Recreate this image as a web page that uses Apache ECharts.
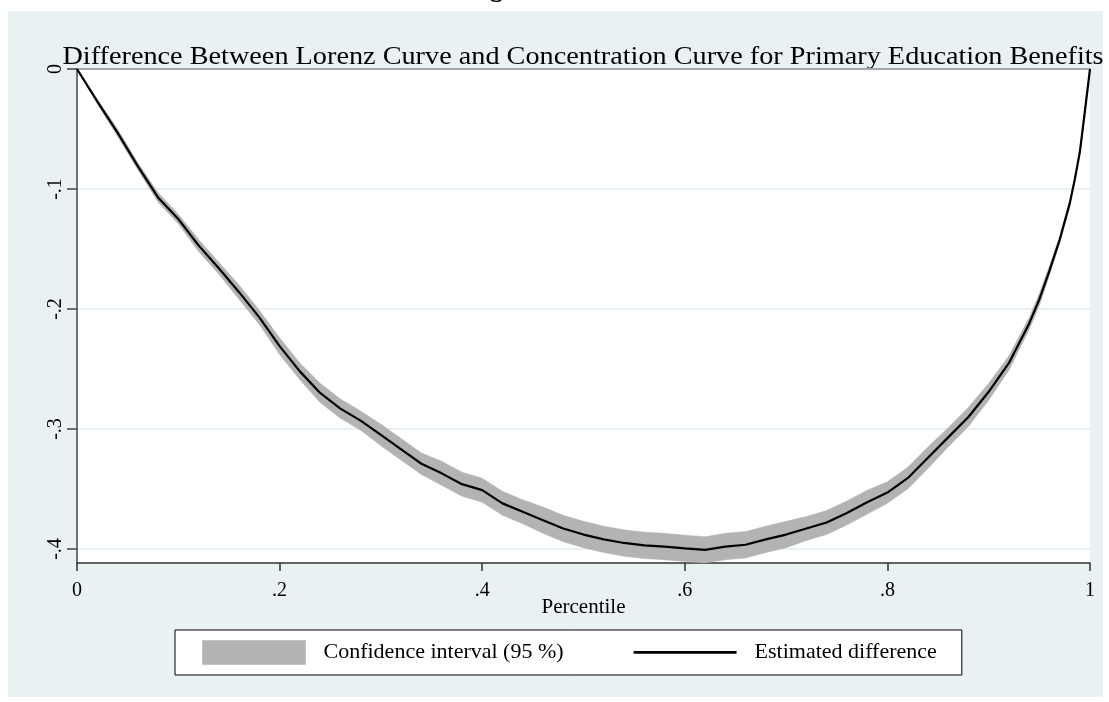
<!DOCTYPE html>
<html>
<head>
<meta charset="utf-8">
<title>Difference Between Lorenz Curve and Concentration Curve</title>
<script src="https://cdn.jsdelivr.net/npm/echarts@6/dist/echarts.min.js"></script>
<style>
  html, body { margin: 0; padding: 0; background: #ffffff; }
  #chart { width: 1109px; height: 702px; }
</style>
</head>
<body>
<div id="chart"></div>
<script>
// Percentile grid (population share, poorest first)
const percentile = [
  0, 0.02, 0.04, 0.06, 0.08, 0.10, 0.12, 0.14, 0.16, 0.18,
  0.20, 0.22, 0.24, 0.26, 0.28, 0.30, 0.32, 0.34, 0.36, 0.38,
  0.40, 0.42, 0.44, 0.46, 0.48, 0.50, 0.52, 0.54, 0.56, 0.58,
  0.60, 0.62, 0.64, 0.66, 0.68, 0.70, 0.72, 0.74, 0.76, 0.78,
  0.80, 0.82, 0.84, 0.86, 0.88, 0.90, 0.92, 0.94, 0.95, 0.96,
  0.97, 0.98, 0.985, 0.99, 0.995, 1
];

// Estimated difference: Lorenz curve minus concentration curve
const estDiff = [
  0, -0.027, -0.053, -0.081, -0.107, -0.125, -0.147, -0.166, -0.186, -0.207,
  -0.231, -0.252, -0.270, -0.283, -0.293, -0.305, -0.317, -0.329, -0.337, -0.346,
  -0.351, -0.362, -0.369, -0.376, -0.383, -0.388, -0.392, -0.395, -0.397, -0.398,
  -0.3995, -0.4008, -0.398, -0.3965, -0.392, -0.388, -0.383, -0.378, -0.370, -0.361,
  -0.353, -0.341, -0.324, -0.307, -0.290, -0.269, -0.245, -0.212, -0.192, -0.168,
  -0.1425, -0.112, -0.092, -0.069, -0.035, 0
];

// 95 % confidence bounds
const ciLow = [
  0, -0.029, -0.056, -0.084, -0.111, -0.129, -0.152, -0.171, -0.192, -0.213,
  -0.238, -0.259, -0.278, -0.291, -0.301, -0.314, -0.326, -0.338, -0.347, -0.356,
  -0.361, -0.372, -0.379, -0.387, -0.394, -0.399, -0.403, -0.406, -0.408, -0.409,
  -0.4105, -0.4116, -0.409, -0.4075, -0.403, -0.399, -0.393, -0.388, -0.380, -0.371,
  -0.362, -0.350, -0.333, -0.315, -0.298, -0.276, -0.251, -0.217, -0.197, -0.172,
  -0.1455, -0.115, -0.094, -0.071, -0.036, 0
];
const ciHigh = [
  0, -0.025, -0.050, -0.078, -0.103, -0.121, -0.142, -0.161, -0.180, -0.201,
  -0.224, -0.245, -0.262, -0.275, -0.285, -0.296, -0.308, -0.320, -0.327, -0.336,
  -0.341, -0.352, -0.359, -0.365, -0.372, -0.377, -0.381, -0.384, -0.386, -0.387,
  -0.3885, -0.3898, -0.387, -0.3855, -0.381, -0.377, -0.373, -0.368, -0.360, -0.351,
  -0.344, -0.332, -0.315, -0.299, -0.282, -0.262, -0.239, -0.207, -0.187, -0.164,
  -0.1395, -0.109, -0.090, -0.067, -0.034, 0
];

// Axis ticks and their printed labels
const xTicks = [0, 0.2, 0.4, 0.6, 0.8, 1];
const xTickLabels = ['0', '.2', '.4', '.6', '.8', '1'];
const yTicks = [-0.4, -0.3, -0.2, -0.1, 0];
const yTickLabels = ['-.4', '-.3', '-.2', '-.1', '0'];
const yFloor = -0.4117;

const titleText = 'Difference Between Lorenz Curve and Concentration Curve for Primary Education Benefits';
const ciName = 'Confidence interval (95 %)';
const lineName = 'Estimated difference';

const SERIF = '"Liberation Serif", "Times New Roman", serif';
const BAND = '#b3b3b3';

// Legend key for the estimate: a rule centred in a 103x24 box
// (the two hair-thin corner specks only fix the box size so the rule is not stretched)
const LINE_KEY = 'path://M0,0L0.01,0L0,0.01Z M0,10.6L103,10.6L103,13.2L0,13.2Z M103,24L102.99,24L103,23.99Z';

function labelFor(ticks, labels) {
  return function (v) {
    for (let i = 0; i < ticks.length; i++) {
      if (Math.abs(ticks[i] - v) < 1e-9) return labels[i];
    }
    return '';
  };
}

const linePairs = percentile.map((p, i) => [p, estDiff[i]]);

// The confidence band is one polygon: upper bound left to right, lower bound back.
function renderBand(params, api) {
  const pts = [];
  for (let i = 0; i < percentile.length; i++) pts.push(api.coord([percentile[i], ciHigh[i]]));
  for (let i = percentile.length - 1; i >= 0; i--) pts.push(api.coord([percentile[i], ciLow[i]]));
  return {
    type: 'polygon',
    shape: { points: pts },
    style: { fill: BAND, stroke: BAND, lineWidth: 0.5 }
  };
}

const chart = echarts.init(document.getElementById('chart'), null, { renderer: 'canvas' });

chart.setOption({
  backgroundColor: '#ffffff',
  animation: false,
  graphic: [
    {
      type: 'rect', z: -10, silent: true,
      shape: { x: 8, y: 11, width: 1095, height: 686 },
      style: { fill: '#eaf1f3' }
    },
    {
      type: 'text', z: -5, silent: true,
      x: 467, y: 3,
      style: {
        text: 'Figure', fill: '#000', font: 'bold 26px ' + SERIF,
        align: 'left', verticalAlign: 'bottom'
      }
    },
    {
      type: 'text', silent: true,
      x: 583, y: 70, scaleX: 1.13,
      style: {
        text: titleText, fill: '#000', font: '25px ' + SERIF,
        align: 'center', verticalAlign: 'bottom'
      }
    }
  ],
  grid: {
    left: 77, right: 19, top: 69, bottom: 139,
    show: true, backgroundColor: '#ffffff', borderWidth: 0
  },
  legend: {
    left: 175, top: 630,
    orient: 'horizontal',
    padding: [10, 25, 10, 27],
    itemWidth: 103, itemHeight: 24, itemGap: 70,
    backgroundColor: '#ffffff',
    borderColor: '#000000', borderWidth: 1,
    selectedMode: false,
    textStyle: { fontFamily: SERIF, fontSize: 22, color: '#000', padding: [0, 0, 0, 13] },
    data: [
      { name: ciName, icon: 'rect', itemStyle: { color: BAND, borderColor: '#c4c4c4', borderWidth: 1 } },
      { name: lineName, icon: LINE_KEY, itemStyle: { color: '#000000', borderWidth: 0 } }
    ]
  },
  xAxis: [
    {
      type: 'value', min: 0, max: 1, interval: 0.2,
      position: 'bottom',
      name: 'Percentile', nameLocation: 'middle', nameGap: 34, nameMoveOverlap: false,
      nameTextStyle: { fontFamily: SERIF, fontSize: 21, color: '#000' },
      axisLine: { show: true, onZero: false, lineStyle: { color: '#333333', width: 1.5 } },
      axisTick: { show: true, length: 8, lineStyle: { color: '#333333', width: 1.5 } },
      axisLabel: {
        margin: 18, fontFamily: SERIF, fontSize: 20, color: '#000',
        formatter: labelFor(xTicks, xTickLabels)
      },
      splitLine: { show: false }
    },
    {
      type: 'value', min: 0, max: 1, position: 'top',
      axisLine: { show: true, onZero: false, lineStyle: { color: '#8f8f8f', width: 1.5 } },
      axisTick: { show: false }, axisLabel: { show: false }, splitLine: { show: false }
    }
  ],
  yAxis: {
    type: 'value', min: yFloor, max: 0,
    axisLine: { show: true, onZero: false, lineStyle: { color: '#444444', width: 1.5 } },
    axisTick: { show: true, length: 10, customValues: yTicks, lineStyle: { color: '#444444', width: 1.5 } },
    axisLabel: {
      customValues: yTicks, rotate: 90, margin: 11,
      fontFamily: SERIF, fontSize: 20, color: '#000',
      formatter: labelFor(yTicks, yTickLabels)
    },
    splitLine: { show: true, lineStyle: { color: '#e7f0f2', width: 2 } }
  },
  series: [
    {
      name: ciName, type: 'custom',
      renderItem: renderBand,
      data: [[0, 0]],
      itemStyle: { color: BAND },
      silent: true, z: 2
    },
    {
      name: lineName, type: 'line', data: linePairs,
      symbol: 'none', silent: true,
      itemStyle: { color: '#000000' },
      lineStyle: { color: '#000000', width: 2.2 }, z: 3
    }
  ]
});
</script>
</body>
</html>
